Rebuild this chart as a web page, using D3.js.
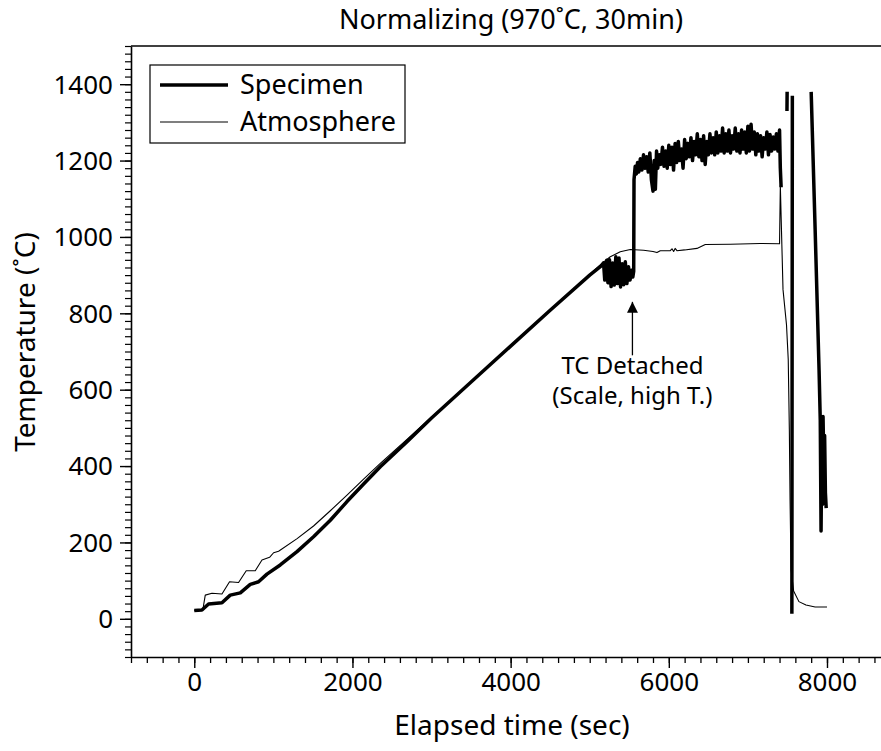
<!DOCTYPE html>
<html>
<head>
<meta charset="utf-8">
<script src="https://cdn.jsdelivr.net/npm/d3@7"></script>
<style>
  body { margin: 0; background: #fff; }
  svg { display: block; font-family: "Noto Sans", "DejaVu Sans", sans-serif; }
</style>
</head>
<body>
<svg id="chart" width="881" height="751"></svg>
<script>
// chart texts
var titleText = "Normalizing (970˚C, 30min)";
var xLabel = "Elapsed time (sec)";
var yLabel = "Temperature (˚C)";
var seriesNames = ["Specimen", "Atmosphere"];
var noteLines = ["TC Detached", "(Scale, high T.)"];
var noteTarget = [5540, 830]; // time, temperature the arrow points to
var noteTail = 690;

var xTicks = [0, 2000, 4000, 6000, 8000];
var yTicks = [0, 200, 400, 600, 800, 1000, 1200, 1400];

// specimen thermocouple, [sec, degC]; null = gap in the record
var specimen = [
  [0, 22], [97, 23], [181, 39], [350, 42], [455, 62], [582, 68], [708, 90],
  [813, 97], [919, 117], [1087, 141], [1299, 176], [1508, 215], [1720, 258],
  [1931, 307], [2141, 353], [2352, 398], [2700, 466], [3000, 526], [3500, 620],
  [4000, 714], [4500, 808], [5000, 900], [5150, 925],
  // first detachment
  [5175, 932], [5190, 887], [5215, 939], [5230, 880], [5250, 940], [5270, 870],
  [5290, 932], [5310, 874], [5330, 948], [5350, 878], [5370, 945], [5390, 869],
  [5410, 930], [5430, 875], [5450, 935], [5470, 878], [5490, 922], [5510, 887],
  [5530, 913], [5545, 895], [5556, 910],
  // high plateau
  [5560, 1150], [5575, 1185], [5590, 1165], [5605, 1195], [5620, 1170], [5640, 1205],
  [5660, 1175], [5680, 1215], [5700, 1180], [5720, 1210], [5740, 1170], [5760, 1220],
  [5780, 1150], [5800, 1120], [5815, 1200], [5830, 1125], [5845, 1225], [5860, 1180],
  [5880, 1215], [5900, 1190], [5920, 1235], [5940, 1185], [5960, 1225], [5980, 1180],
  [6000, 1240], [6020, 1190], [6040, 1235], [6060, 1175], [6080, 1245], [6100, 1195],
  [6120, 1250], [6140, 1200], [6160, 1230], [6180, 1180], [6200, 1255], [6220, 1205],
  [6240, 1245], [6260, 1210], [6280, 1260], [6300, 1200], [6320, 1250], [6340, 1215],
  [6360, 1270], [6380, 1210], [6400, 1255], [6420, 1200], [6440, 1265], [6460, 1190],
  [6480, 1250], [6500, 1215], [6520, 1270], [6540, 1220], [6560, 1260], [6580, 1215],
  [6600, 1275], [6620, 1220], [6640, 1265], [6660, 1225], [6680, 1285], [6700, 1220],
  [6720, 1270], [6740, 1225], [6760, 1280], [6780, 1220], [6800, 1265], [6820, 1230],
  [6840, 1285], [6860, 1225], [6880, 1270], [6900, 1220], [6920, 1280], [6940, 1230],
  [6960, 1275], [6980, 1220], [7000, 1290], [7020, 1225], [7040, 1295], [7060, 1230],
  [7080, 1275], [7100, 1215], [7120, 1270], [7140, 1225], [7160, 1265], [7180, 1210],
  [7200, 1260], [7220, 1230], [7240, 1275], [7260, 1215], [7280, 1268], [7300, 1225],
  [7320, 1262], [7340, 1230], [7360, 1270], [7380, 1225], [7400, 1280], [7410, 1180],
  [7420, 1130],
  null,
  [7494, 1330], [7496, 1380],
  null,
  [7562, 1370], [7556, 13],
  null,
  // quench
  [7800, 1380], [7850, 1020], [7900, 650], [7915, 520], [7925, 230], [7935, 480],
  [7945, 300], [7950, 530], [7960, 400], [7970, 480], [7980, 330], [7990, 290]
];

// furnace atmosphere, [sec, degC]
var atmosphere = [
  [0, 22], [110, 24], [118, 36], [139, 62], [224, 67], [350, 65], [446, 97],
  [560, 95], [657, 126], [771, 126], [856, 154], [952, 161], [1003, 173],
  [1066, 177], [1300, 210], [1508, 243], [1720, 283], [1931, 324], [2141, 366],
  [2352, 407], [2700, 472], [3000, 528], [3500, 621], [4000, 715], [4500, 809],
  [5000, 902], [5150, 930], [5260, 948], [5386, 961], [5513, 967], [5681, 965],
  [5800, 962], [5850, 959], [5892, 964], [6018, 964], [6040, 969], [6061, 962],
  [6080, 970], [6103, 964], [6200, 966], [6356, 970], [6461, 980], [6777, 981],
  [7156, 983], [7400, 982], [7410, 1135], [7444, 862], [7488, 770], [7510, 679],
  [7524, 495], [7533, 311], [7546, 128], [7578, 73], [7645, 45], [7734, 36],
  [7850, 31], [8000, 31]
];

var svg = d3.select("#chart");
var plotLeft = 131, plotTop = 46, plotBottom = 657;

var x = d3.scaleLinear().domain([-800, 9000]).range([plotLeft, plotLeft + 9800 * 0.07909]);
var y = d3.scaleLinear().domain([-100, 1500]).range([plotBottom, plotTop]);

// title
svg.append("text")
  .attr("x", 511).attr("y", 29)
  .attr("text-anchor", "middle")
  .attr("font-size", 27)
  .text(titleText);

// frame top line
svg.append("line")
  .attr("x1", plotLeft).attr("x2", 881)
  .attr("y1", plotTop).attr("y2", plotTop)
  .attr("stroke", "#000").attr("stroke-width", 1.6);

// minor ticks
svg.append("g")
  .attr("transform", "translate(0," + plotBottom + ")")
  .call(d3.axisBottom(x).tickValues(d3.range(-800, 9001, 200)).tickSize(6).tickFormat(""))
  .call(g => g.select(".domain").remove())
  .call(g => g.selectAll("line").attr("stroke-width", 1.3));

svg.append("g")
  .attr("transform", "translate(" + plotLeft + ",0)")
  .call(d3.axisLeft(y).tickValues(d3.range(-100, 1501, 20)).tickSize(6).tickFormat(""))
  .call(g => g.select(".domain").remove())
  .call(g => g.selectAll("line").attr("stroke-width", 1.2));

// major axes
var xAxis = svg.append("g")
  .attr("transform", "translate(0," + plotBottom + ")")
  .call(d3.axisBottom(x).tickValues(xTicks).tickFormat(d3.format("d"))
    .tickSize(11).tickPadding(5).tickSizeOuter(0));
var yAxis = svg.append("g")
  .attr("transform", "translate(" + plotLeft + ",0)")
  .call(d3.axisLeft(y).tickValues(yTicks).tickFormat(d3.format("d"))
    .tickSize(11).tickPadding(7).tickSizeOuter(0));

[xAxis, yAxis].forEach(function(a) {
  a.select(".domain").attr("stroke-width", 1.6);
  a.selectAll(".tick line").attr("stroke-width", 1.4);
  a.selectAll(".tick text")
    .attr("font-size", 26)
    .attr("font-family", "'Noto Sans', sans-serif")
    .attr("fill", "#000");
});
yAxis.selectAll(".tick text").attr("dy", "0.34em");

// axis titles
svg.append("text")
  .attr("x", 512).attr("y", 735)
  .attr("text-anchor", "middle")
  .attr("font-size", 28)
  .text(xLabel);

svg.append("text")
  .attr("transform", "translate(35,342) rotate(-90)")
  .attr("text-anchor", "middle")
  .attr("font-size", 28)
  .text(yLabel);

// series
var line = d3.line()
  .defined(d => d !== null)
  .x(d => x(d[0]))
  .y(d => y(d[1]));

svg.append("path")
  .datum(atmosphere)
  .attr("d", line)
  .attr("fill", "none")
  .attr("stroke", "#000")
  .attr("stroke-width", 1.1)
  .attr("stroke-linejoin", "round");

svg.append("path")
  .datum(specimen)
  .attr("d", line)
  .attr("fill", "none")
  .attr("stroke", "#000")
  .attr("stroke-width", 3.5)
  .attr("stroke-linejoin", "round");

// annotation
svg.append("defs").append("marker")
  .attr("id", "arrow")
  .attr("viewBox", "0 0 10 10")
  .attr("refX", 10).attr("refY", 5)
  .attr("markerWidth", 17).attr("markerHeight", 11)
  .attr("markerUnits", "userSpaceOnUse")
  .attr("orient", "auto")
  .append("path")
  .attr("d", "M0,0 L10,5 L0,10 Z")
  .attr("fill", "#000");

svg.append("line")
  .attr("x1", x(noteTarget[0])).attr("x2", x(noteTarget[0]))
  .attr("y1", y(noteTail)).attr("y2", y(noteTarget[1]))
  .attr("stroke", "#000").attr("stroke-width", 1.3)
  .attr("marker-end", "url(#arrow)");

svg.append("text")
  .attr("x", x(noteTarget[0])).attr("y", 374)
  .attr("text-anchor", "middle")
  .attr("font-size", 24)
  .selectAll("tspan")
  .data(noteLines)
  .join("tspan")
  .attr("x", x(noteTarget[0]))
  .attr("dy", (d, i) => i ? "1.25em" : 0)
  .text(d => d);

// legend
var lg = svg.append("g");
lg.append("rect")
  .attr("x", 150).attr("y", 65)
  .attr("width", 255).attr("height", 78)
  .attr("fill", "#fff").attr("stroke", "#000").attr("stroke-width", 1.2);

seriesNames.forEach(function(name, i) {
  var yy = 85 + i * 37;
  lg.append("line")
    .attr("x1", 160).attr("x2", 228)
    .attr("y1", yy).attr("y2", yy)
    .attr("stroke", "#000")
    .attr("stroke-width", i ? 1.1 : 3.5);
  lg.append("text")
    .attr("x", 240).attr("y", yy + 9)
    .attr("font-size", 27)
    .text(name);
});
</script>
</body>
</html>
